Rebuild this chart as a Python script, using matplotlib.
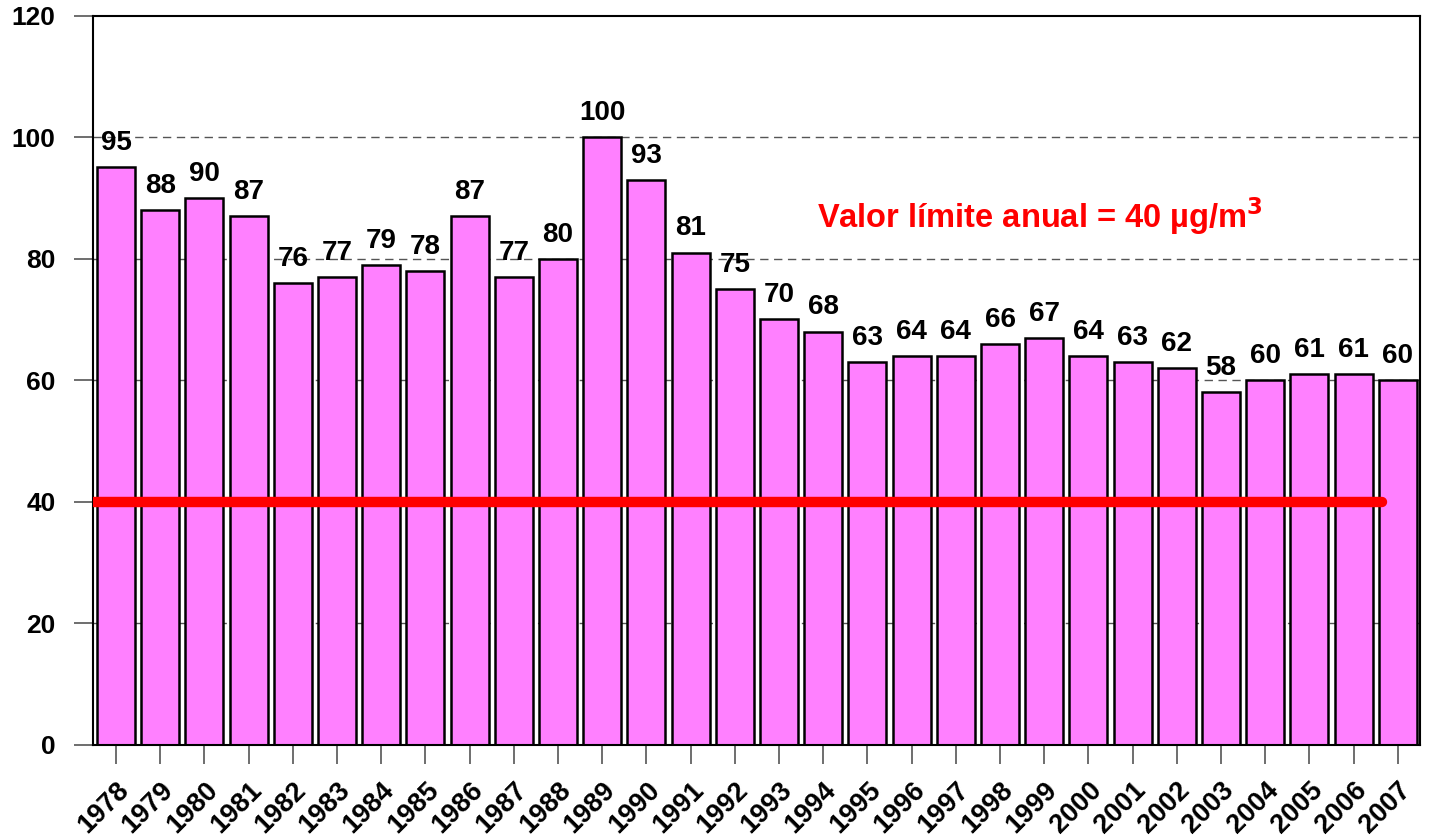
import numpy as np
import matplotlib.pyplot as plt
from matplotlib.transforms import ScaledTranslation

plt.rcParams['font.family'] = ['Liberation Sans', 'DejaVu Sans']
plt.rcParams['font.weight'] = 'bold'

years = list(range(1978, 2008))
values = [95, 88, 90, 87, 76, 77, 79, 78, 87, 77, 80, 100, 93, 81, 75,
          70, 68, 63, 64, 64, 66, 67, 64, 63, 62, 58, 60, 61, 61, 60]
limit = 40
limit_label = 'Valor límite anual = 40 µg/m$^\\mathbf{3}$'

fig = plt.figure(figsize=(14.33, 8.38), dpi=100)
ax = fig.add_axes([0.0649, 0.111, 0.9260, 0.8705])

x = np.arange(len(years))
ax.bar(x, values, width=0.86, color='#FF80FF', edgecolor='black', linewidth=1.8, zorder=2)

for xi, v in zip(x, values):
    ax.annotate(str(v), (xi, v), xytext=(0, 8), textcoords='offset points',
                ha='center', va='bottom', fontsize=20, fontweight='bold')

# limit line
ax.plot([-0.5, 28.65], [limit, limit], color='red', linewidth=7.5,
        solid_capstyle='round', zorder=3)
ax.text(20.9, 87, limit_label, color='red', fontsize=23.5, fontweight='bold',
        ha='center', va='center')

ax.set_xlim(-0.52, 29.5)
ax.set_ylim(0, 120)
ax.set_yticks(range(0, 121, 20))
ax.set_xticks(x)
ax.set_xticklabels(years, rotation=45, ha='right', va='top', rotation_mode='anchor')
shift = ScaledTranslation(9 / 100, 0, fig.dpi_scale_trans)
for t in ax.get_xticklabels():
    t.set_fontsize(19.5)
    t.set_fontweight('bold')
    t.set_transform(t.get_transform() + shift)
for t in ax.get_yticklabels():
    t.set_fontsize(19)
    t.set_fontweight('bold')

ax.tick_params(axis='y', length=14, width=1.2, color='#555555', pad=13)
ax.tick_params(axis='x', length=14, width=1.2, color='#555555', pad=9)

for y in [20, 60, 80, 100]:
    ax.axhline(y, color='#555555', linewidth=1, linestyle=(0, (6, 4)), zorder=1)

for s in ax.spines.values():
    s.set_linewidth(1.5)

fig.savefig('out.png', dpi=100)
